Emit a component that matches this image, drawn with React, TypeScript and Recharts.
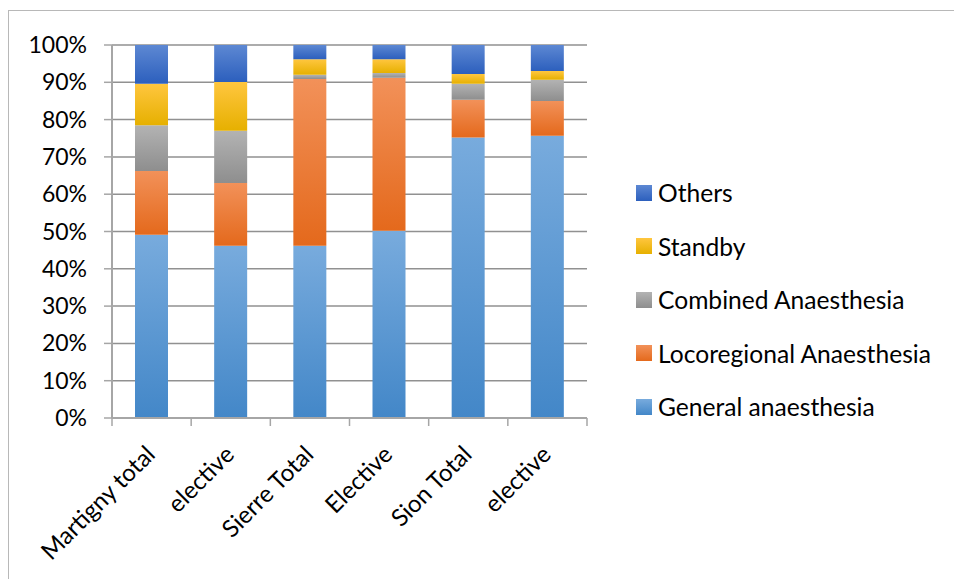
import React from "react";
import { BarChart, Bar, XAxis, YAxis, CartesianGrid } from "recharts";

// Hospital / subset labels along the x axis
const categories = ["Martigny total", "elective", "Sierre Total", "Elective", "Sion Total", "elective"];

// Share of each anaesthesia type, in percent
const generalAnaesthesia = [49.1, 46.2, 46.2, 50.2, 75.2, 75.7];
const locoregionalAnaesthesia = [17.1, 16.8, 44.7, 41.0, 10.1, 9.3];
const combinedAnaesthesia = [12.3, 14.0, 1.1, 1.3, 4.3, 5.7];
const standby = [11.1, 13.1, 4.2, 3.7, 2.6, 2.3];
const others = [10.4, 9.9, 3.8, 3.8, 7.8, 7.0];

const yTicks = [0, 10, 20, 30, 40, 50, 60, 70, 80, 90, 100];

const FONT = "Lato, 'Open Sans', sans-serif";

const seriesDefs = [
  { key: "general", name: "General anaesthesia", values: generalAnaesthesia, top: "#78abdd", bottom: "#4387c8" },
  { key: "loco", name: "Locoregional Anaesthesia", values: locoregionalAnaesthesia, top: "#f29159", bottom: "#e4691c" },
  { key: "combined", name: "Combined Anaesthesia", values: combinedAnaesthesia, top: "#b3b3b3", bottom: "#8e8e8e" },
  { key: "standby", name: "Standby", values: standby, top: "#ffc63f", bottom: "#e6b000" },
  { key: "others", name: "Others", values: others, top: "#5d88d3", bottom: "#2c5fbd" },
];

const data = categories.map((c, i) => {
  const row: Record<string, string | number> = { name: c };
  seriesDefs.forEach((s) => {
    row[s.key] = s.values[i];
  });
  return row;
});

const X_TICK_SIZE = 6;
const X_TICK_MARGIN = 10;

// Category label rotated 45°, plus boundary tick marks between categories
const CategoryTick = (props: any) => {
  const { x, y, payload, index, width, visibleTicksCount } = props;
  const band = width / (visibleTicksCount || categories.length);
  const axisY = y - X_TICK_SIZE - X_TICK_MARGIN;
  return (
    <g>
      <line x1={x - band / 2} y1={axisY} x2={x - band / 2} y2={axisY + 8} stroke="#a6a6a6" strokeWidth={1.5} />
      {index === categories.length - 1 && (
        <line x1={x + band / 2} y1={axisY} x2={x + band / 2} y2={axisY + 8} stroke="#a6a6a6" strokeWidth={1.5} />
      )}
      <text
        x={0}
        y={0}
        transform={`translate(${x + 5},${axisY + 38}) rotate(-45)`}
        textAnchor="end"
        fontFamily={FONT}
        fontSize={24}
        fill="#000"
      >
        {payload.value}
      </text>
    </g>
  );
};

const PercentTick = (props: any) => {
  const { x, y, payload } = props;
  return (
    <text x={x} y={y} dy={8} textAnchor="end" fontFamily={FONT} fontSize={23} fill="#000">
      {`${payload.value}%`}
    </text>
  );
};

const LegendList = () => {
  const items = [...seriesDefs].reverse();
  return (
    <div style={{ fontFamily: FONT, fontSize: 24.6, color: "#000" }}>
      {items.map((s) => (
        <div key={s.key} style={{ display: "flex", alignItems: "center", height: 53.5 }}>
          <span
            style={{
              display: "inline-block",
              width: 16,
              height: 16,
              marginRight: 6,
              background: `linear-gradient(${s.top}, ${s.bottom})`,
            }}
          />
          <span>{s.name}</span>
        </div>
      ))}
    </div>
  );
};

export default function App() {
  return (
    <div style={{ position: "fixed", left: 0, top: 0, width: 954, height: 579, background: "#fff", overflow: "hidden" }}>
      <div
        style={{
          position: "absolute",
          left: 8,
          top: 10,
          width: 1000,
          height: 1000,
          borderLeft: "1.5px solid #b8b8b8",
          borderTop: "1.5px solid #b8b8b8",
        }}
      />
      <div style={{ position: "absolute", left: 0, top: 0 }}>
        <BarChart
          width={954}
          height={579}
          data={data}
          margin={{ top: 45, right: 367, bottom: 41, left: 0 }}
          barSize={33}
        >
          <defs>
            {seriesDefs.map((s) => (
              <linearGradient key={s.key} id={`grad-${s.key}`} x1="0" y1="0" x2="0" y2="1">
                <stop offset="0%" stopColor={s.top} />
                <stop offset="100%" stopColor={s.bottom} />
              </linearGradient>
            ))}
          </defs>
          <CartesianGrid vertical={false} stroke="#919191" strokeWidth={1.5} />
          <XAxis
            dataKey="name"
            interval={0}
            height={120}
            tickLine={false}
            tickSize={X_TICK_SIZE}
            tick={<CategoryTick />}
            tickMargin={X_TICK_MARGIN}
            axisLine={{ stroke: "#a6a6a6", strokeWidth: 2 }}
          />
          <YAxis
            type="number"
            domain={[0, 100]}
            ticks={yTicks}
            width={112}
            tick={<PercentTick />}
            tickSize={8}
            tickMargin={17}
            tickLine={{ stroke: "#a6a6a6", strokeWidth: 1.5 }}
            axisLine={{ stroke: "#a6a6a6", strokeWidth: 2 }}
          />
          {seriesDefs.map((s) => (
            <Bar
              key={s.key}
              dataKey={s.key}
              name={s.name}
              stackId="a"
              fill={`url(#grad-${s.key})`}
              isAnimationActive={false}
            />
          ))}
        </BarChart>
      </div>
      <div style={{ position: "absolute", left: 636, top: 166, width: 316 }}>
        <LegendList />
      </div>
    </div>
  );
}
